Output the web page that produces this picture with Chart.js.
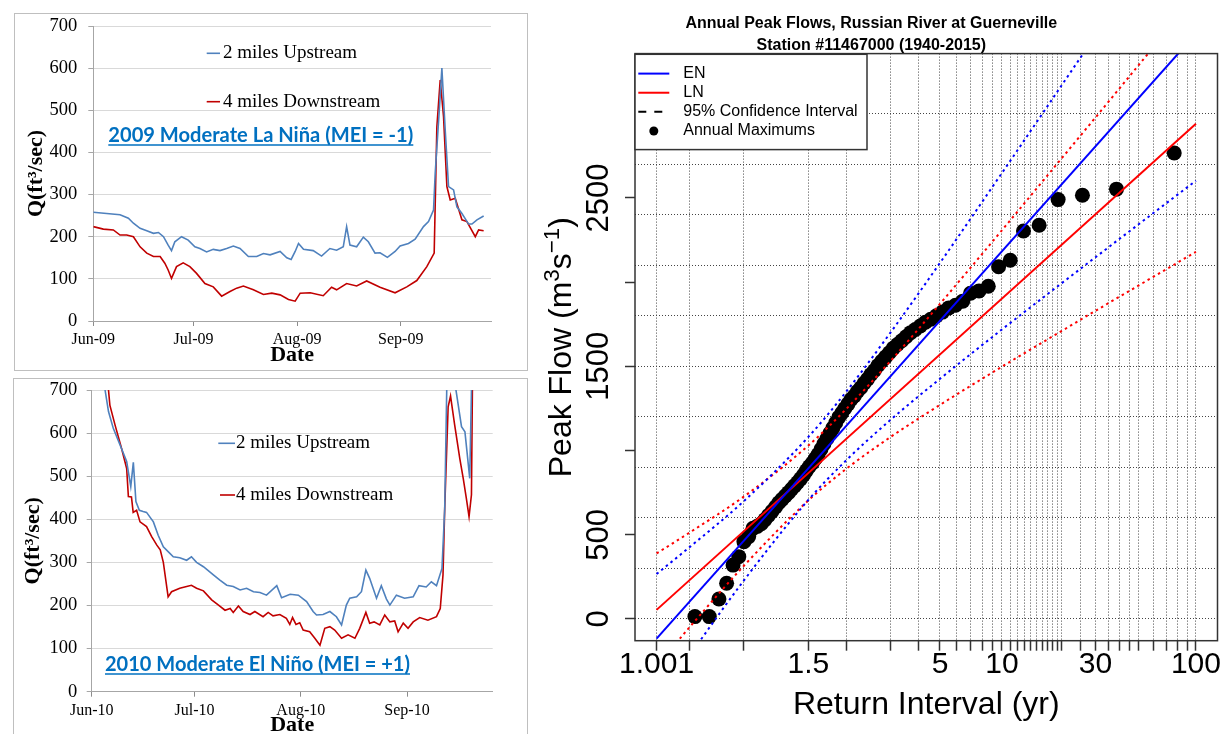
<!DOCTYPE html>
<html>
<head>
<meta charset="utf-8">
<script src="https://cdn.jsdelivr.net/npm/chart.js@4.4.1/dist/chart.umd.min.js"></script>
<style>
  html, body { margin:0; padding:0; background:#fff; }
  body { width:1225px; height:734px; position:relative; overflow:hidden; }
  .frame { position:absolute; border:1px solid #BFBFBF; box-sizing:border-box; overflow:hidden; background:#fff; }
  canvas { display:block; }
  #w3 { position:absolute; left:525px; top:0; }
</style>
</head>
<body>
<div class="frame" style="left:14px;top:13px;width:514px;height:358px;"><canvas id="c2009" width="512" height="356"></canvas></div>
<div class="frame" style="left:13px;top:378px;width:515px;height:362px;"><canvas id="c2010" width="513" height="360"></canvas></div>
<div id="w3"><canvas id="cpeak" width="700" height="734"></canvas></div>
<script>
// ---------------- 2009 panel (day 0 = 1 June) ----------------
const days2009Up = [0,4,8,10.5,12,14,16,18,19.5,21,22.4,23.4,24.4,26.4,28.4,30.4,31.9,33.9,35.9,37.9,39.9,41.9,43.9,46.4,48.9,50.9,52.9,55.9,57.9,59.2,60.4,61.4,62.9,65.8,68.3,70.8,72.8,74.8,75.8,76.8,78.8,80.8,82.3,84.3,85.8,88,90.3,91.8,94.3,96.3,98.8,100.3,101.8,102.3,103.6,104.3,105.3,106.3,107.8,108.8,110.3,112.3,113.3,114.8,116.8];
const flow2009Up = [258,255,252,244,232,220,214,208,210,200,180,167,188,200,192,176,172,164,170,167,172,178,172,153,153,160,157,165,150,146,165,184,170,167,154,172,168,176,224,180,176,199,188,161,162,151,165,178,184,194,224,236,263,350,509,600,453,319,311,271,255,230,230,240,249];
const days2009Down = [0,3,6,8,10,12,14,16,18,20,21.4,22.4,23.4,24.9,26.9,28.9,30.9,33.4,35.9,38.4,40.9,42.9,44.9,47.9,50.9,53.4,55.9,58.4,60.4,61.9,64.9,68.8,71.3,72.8,75.8,78.8,81.8,85.8,90.3,93.8,96.8,99.8,102,102.8,103.8,104.8,105.8,106.8,108.3,110.3,111.8,114.3,115.3,116.8];
const flow2009Down = [224,218,216,204,204,200,176,161,153,153,137,121,101,129,138,129,113,89,81,59,70,78,83,74,63,66,62,51,47,66,67,60,80,74,89,83,95,80,67,81,96,129,161,461,572,485,319,287,291,240,236,200,216,214];

// ---------------- 2010 panel (day 0 = 1 June) ----------------
const days2010Up = [3,3.9,4.9,6.3,8.3,10.2,11.4,12.15,12.9,13.9,15,16,18,19.4,20.9,22.3,23.8,25.7,27.7,29.1,30.6,32.6,35.5,37.4,39.4,41.3,43.3,45.2,47.2,49.1,51,54,55.4,57.9,60.3,62.7,64.6,65.6,67.5,69.5,71.4,72.9,74.3,75.3,77.3,78.7,80,81.1,83.1,84.5,86,87,88.9,91.3,93.8,95.5,97.6,99.1,100.6,102.2,103,103.8,104.8,105.9,107.9,108.9,110.3,111.3];
const flow2010Up = [780,700,650,611,572,534,476,532,441,421,418,416,394,363,336,325,313,311,305,313,300,290,271,259,247,244,236,240,232,230,224,246,218,226,224,209,186,178,179,186,174,155,201,217,220,232,282,263,217,246,215,201,224,217,220,246,243,255,246,286,425,800,850,720,615,603,495,900];
const days2010Down = [4.5,4.9,5.3,6.8,8.7,10.2,10.7,11.6,12.1,13.1,14.1,16,17.5,19,20,20.9,22.3,23.3,25.7,27.7,29.1,30.6,32.6,35,37,38.9,40.4,41.3,42.8,44.2,46.2,47.6,50,51.5,52.9,54.9,56.8,57.8,58.6,59.6,60.7,61.7,63.6,65.1,66.6,68,69.5,70.9,72.9,74.8,76.8,78.2,80,81.1,82.4,84.05,85.5,87,88.4,89.4,90.9,92.3,93.8,95.7,98.1,100.6,101.7,102.5,103,104,104.7,105.9,107.4,108.4,109.3,110.1,110.8,111.3];
const flow2010Down = [760,700,665,619,565,518,453,452,416,421,394,383,360,340,329,300,220,232,240,244,247,240,234,213,201,189,193,184,199,186,179,186,174,184,176,179,170,156,172,156,160,143,139,124,108,147,151,143,124,132,124,147,184,159,162,155,178,162,164,139,159,147,162,172,166,174,193,271,425,661,686,619,541,495,449,406,457,900];

const monthTickDays = [0, 30, 61, 92];
const monthLabels2009 = ['Jun-09', 'Jul-09', 'Aug-09', 'Sep-09'];
const monthLabels2010 = ['Jun-10', 'Jul-10', 'Aug-10', 'Sep-10'];
const seriesNames = ['2 miles Upstream', '4 miles Downstream'];
const note2009 = '2009 Moderate La Niña (MEI = -1)';
const note2010 = '2010 Moderate El Niño (MEI = +1)';

// ---------------- Annual peak flows panel ----------------
const annualMaxT = [77,38.5,25.67,19.25,15.4,12.83,11,9.625,8.556,7.7,7,6.417,5.923,5.5,5.133,4.813,4.529,4.278,4.053,3.85,3.667,3.5,3.348,3.208,3.08,2.962,2.852,2.75,2.655,2.567,2.484,2.406,2.333,2.265,2.2,2.139,2.081,2.026,1.974,1.925,1.878,1.833,1.791,1.75,1.711,1.674,1.638,1.604,1.571,1.54,1.51,1.481,1.453,1.426,1.4,1.375,1.351,1.328,1.305,1.283,1.262,1.242,1.222,1.203,1.185,1.167,1.149,1.132,1.116,1.1,1.0845,1.0694,1.0548,1.0405,1.0267,1.0132];
const annualMaxQ = [2767,2552,2516,2490,2338,2304,2130,2091,1976,1948,1934,1887,1863,1847,1822,1800,1780,1762,1740,1719,1700,1676,1652,1630,1608,1581,1555,1530,1505,1475,1452,1423,1400,1373,1351,1324,1303,1276,1250,1223,1197,1165,1133,1102,1070,1040,1008,977,951,926,905,881,855,832,810,790,770,750,730,710,690,665,640,615,590,565,550,538,489,459,370,320,212,119,14,14];
const fitT = [1.001, 100];
const enFitQ = [-117, 3475];
const lnFitQ = [54, 2941];
const ciT = [1.001,1.01,1.1,1.5,2,3,5,10,20,30,50,100];
const enUpperQ = [267,428,700,1081,1351,1702,2114,2648,3166,3465,3840,4348];
const enLowerQ = [-501,-215,229,707,943,1183,1426,1719,1992,2148,2342,2602];
const lnUpperQ = [389,514,727,1030,1248,1533,1871,2308,2733,2978,3286,3703];
const lnLowerQ = [-281,-47,316,704,892,1081,1271,1498,1709,1830,1979,2180];
const xTickT = [1.001,1.01,1.1,1.5,2,3,4,5,6,7,8,9,10,11,12,13,14,15,16,17,18,19,20,25,30,35,40,45,50,60,70,80,90,100];
const xLabelT = [1.001,1.5,5,10,30,100];
const yTickQ = [0,500,1000,1500,2000,2500];
const yTickLabels = ['0','500','','1500','','2500'];
const yGridQ = [0,300,600,900,1200,1500,1800,2100,2400,2700,3000];
const legendLabels = ['EN','LN','95% Confidence Interval','Annual Maximums'];
const peakTitle = ['Annual Peak Flows, Russian River at Guerneville', 'Station #11467000 (1940-2015)'];
// y-axis title pieces: [text, superscript?]
const peakYTitle = [['Peak Flow (m', false], ['3', true], ['s', false], ['\u22121', true], [')', false]];

const BLUE = '#4F81BD', RED = '#C00000';
const xy = (xs, ys) => xs.map((x, i) => ({x, y: ys[i]}));

function panelDecor(o) {
  return {
    id: 'decor',
    afterDatasetsDraw(chart) {
      const ctx = chart.ctx, ds = chart.data.datasets;
      ctx.save();
      ctx.textAlign = 'left'; ctx.textBaseline = 'middle';
      ctx.font = '19px "Liberation Serif"';
      o.rows.forEach((r, i) => {
        ctx.strokeStyle = ds[i].borderColor; ctx.lineWidth = 1.6;
        ctx.beginPath(); ctx.moveTo(r.x0, r.y); ctx.lineTo(r.x1, r.y); ctx.stroke();
        ctx.fillStyle = '#000';
        ctx.fillText(ds[i].label, r.tx, r.y);
      });
      ctx.font = 'bold 20px Lato';
      const w = ctx.measureText(o.note).width;
      const size = 20 * o.noteW / w;
      ctx.font = 'bold ' + size.toFixed(2) + 'px Lato';
      ctx.fillStyle = '#0070C0';
      ctx.fillText(o.note, o.noteX, o.noteY);
      ctx.strokeStyle = '#0070C0'; ctx.lineWidth = 1.4;
      ctx.beginPath(); ctx.moveTo(o.noteX, o.noteU); ctx.lineTo(o.noteX + o.noteW, o.noteU); ctx.stroke();
      ctx.restore();
    }
  };
}

function flowPanel(id, o) {
  return new Chart(document.getElementById(id), {
    type: 'line',
    data: { datasets: [
      { label: seriesNames[0], data: xy(o.dUp, o.qUp), borderColor: BLUE, borderWidth: 1.6, pointRadius: 0, tension: 0, clip: 0 },
      { label: seriesNames[1], data: xy(o.dDown, o.qDown), borderColor: RED, borderWidth: 1.6, pointRadius: 0, tension: 0, clip: 0 }
    ]},
    options: {
      responsive: false, animation: false, events: [],
      layout: { padding: { left: 0, right: o.padRight, top: o.padTop, bottom: 0 } },
      plugins: { legend: { display: false }, tooltip: { enabled: false } },
      scales: {
        x: {
          type: 'linear', min: 0, max: o.xMax,
          afterBuildTicks: s => { s.ticks = monthTickDays.map(v => ({ value: v })); },
          ticks: { autoSkip: false, maxRotation: 0, minRotation: 0, padding: 4, color: '#000',
                   font: { family: 'Liberation Serif', size: 16 }, callback: (v, i) => o.labels[i] },
          grid: { drawOnChartArea: false, drawTicks: true, tickLength: 5, tickColor: '#8C8C8C', tickWidth: 1 },
          border: { display: true, color: '#A6A6A6', width: 1 },
          title: { display: true, text: 'Date', color: '#000', font: { family: 'Liberation Serif', size: 22, weight: 'bold' },
                   padding: { top: 0, bottom: o.datePad } },
          afterFit: s => { s.height = o.xH; s.paddingLeft = 0; s.paddingRight = 0; }
        },
        y: {
          type: 'linear', min: 0, max: 700,
          ticks: { stepSize: 100, padding: o.yPad, color: '#000', font: { family: 'Liberation Serif', size: 18.5 } },
          grid: { color: '#D9D9D9', lineWidth: 1, tickLength: 5, tickColor: '#A6A6A6' },
          border: { display: true, color: '#A6A6A6', width: 1 },
          title: { display: true, text: 'Q(ft³/sec)', color: '#000', font: { family: 'Liberation Serif', size: 22, weight: 'bold' },
                   padding: { top: o.qPad, bottom: 0 } },
          afterFit: s => { s.width = o.yW; s.paddingTop = 0; s.paddingBottom = 0; }
        }
      }
    },
    plugins: [panelDecor(o.decor)]
  });
}

flowPanel('c2009', {
  dUp: days2009Up, qUp: flow2009Up, dDown: days2009Down, qDown: flow2009Down,
  labels: monthLabels2009, xMax: 119, padRight: 36, padTop: 12, xH: 49, yW: 78.3, yPad: 11, qPad: 7.8, datePad: 1,
  decor: { rows: [{x0: 191.7, x1: 205, y: 39.3, tx: 208}, {x0: 191.7, x1: 205, y: 87.7, tx: 208}],
           note: note2009, noteX: 93.3, noteY: 121.5, noteW: 305, noteU: 131 }
});
flowPanel('c2010', {
  dUp: days2010Up, qUp: flow2010Up, dDown: days2010Down, qDown: flow2010Down,
  labels: monthLabels2010, xMax: 117, padRight: 34.3, padTop: 11, xH: 47.3, yW: 77.7, yPad: 9.4, qPad: 6.1, datePad: 0,
  decor: { rows: [{x0: 204.3, x1: 221, y: 64.3, tx: 222}, {x0: 206, x1: 221, y: 116, tx: 222}],
           note: note2010, noteX: 91, noteY: 285.7, noteW: 305, noteU: 295 }
});

// ---------------- Peak flow frequency plot ----------------
const gumbel = t => -Math.log(-Math.log(1 - 1 / t));
const gpts = (ts, qs) => ts.map((t, i) => ({ x: gumbel(t), y: qs[i] }));

const peakDecor = {
  id: 'peakDecor',
  afterDatasetsDraw(chart) {
    const { ctx, chartArea: a } = chart;
    ctx.save();
    ctx.strokeStyle = '#333'; ctx.lineWidth = 1.5; ctx.setLineDash([]);
    ctx.strokeRect(a.left, a.top, a.right - a.left, a.bottom - a.top);
    const L = a.left, T = a.top + 0.7, W = 232, H = 95.3;
    ctx.fillStyle = '#fff'; ctx.fillRect(L, T, W, H);
    ctx.strokeRect(L, T, W, H);
    const kinds = [['line', '#0000FF'], ['line', '#FF0000'], ['dash', '#000'], ['dot', '#000']];
    ctx.font = '16px "Liberation Sans"'; ctx.textAlign = 'left'; ctx.textBaseline = 'middle';
    legendLabels.forEach((txt, i) => {
      const y = T + 19.3 + i * 19.13;
      const [kind, col] = kinds[i];
      ctx.strokeStyle = col; ctx.fillStyle = col; ctx.lineWidth = 2;
      if (kind === 'line' || kind === 'dash') {
        ctx.setLineDash(kind === 'dash' ? [8, 8] : []);
        ctx.beginPath(); ctx.moveTo(L + 3.3, y); ctx.lineTo(L + 34.3, y); ctx.stroke();
        ctx.setLineDash([]);
      } else {
        ctx.beginPath(); ctx.arc(L + 18.8, y, 4.5, 0, Math.PI * 2); ctx.fill();
      }
      ctx.fillStyle = '#000';
      ctx.fillText(txt, L + 48.3, y);
    });
    ctx.restore();
  },
  afterDraw(chart) {
    // y-axis title with real superscripts, centred on the y scale
    const { ctx } = chart;
    const ys = chart.scales.y;
    const big = 32, small = 22.4, lift = 12;
    ctx.save();
    ctx.fillStyle = '#000'; ctx.textBaseline = 'alphabetic'; ctx.textAlign = 'left';
    const widths = peakYTitle.map(([t, sup]) => {
      ctx.font = (sup ? small : big) + 'px "Liberation Sans"';
      return ctx.measureText(t).width;
    });
    const total = widths.reduce((s, w) => s + w, 0);
    ctx.translate(45.5, (ys.top + ys.bottom) / 2);
    ctx.rotate(-Math.PI / 2);
    let x = -total / 2;
    peakYTitle.forEach(([t, sup], i) => {
      ctx.font = (sup ? small : big) + 'px "Liberation Sans"';
      ctx.fillText(t, x, sup ? -lift : 0);
      x += widths[i];
    });
    ctx.restore();
  }
};

const lineDs = (label, data, color, dashed) => ({
  label, data, borderColor: color, borderWidth: 2, pointRadius: 0, clip: 0, yAxisID: 'y',
  borderDash: dashed ? [2.5, 3.5] : [], cubicInterpolationMode: dashed ? 'monotone' : 'default', order: 1
});

new Chart(document.getElementById('cpeak'), {
  type: 'line',
  data: { datasets: [
    { label: legendLabels[3], data: gpts(annualMaxT, annualMaxQ), showLine: false, pointRadius: 7.5,
      pointBackgroundColor: '#000', pointBorderWidth: 0, yAxisID: 'y', order: 10 },
    lineDs('EN upper', gpts(ciT, enUpperQ), '#0000FF', true),
    lineDs('EN lower', gpts(ciT, enLowerQ), '#0000FF', true),
    lineDs('LN upper', gpts(ciT, lnUpperQ), '#FF0000', true),
    lineDs('LN lower', gpts(ciT, lnLowerQ), '#FF0000', true),
    lineDs(legendLabels[0], gpts(fitT, enFitQ), '#0000FF', false),
    lineDs(legendLabels[1], gpts(fitT, lnFitQ), '#FF0000', false)
  ]},
  options: {
    responsive: false, animation: false, events: [],
    layout: { padding: { left: 0, right: 7.3, top: 0, bottom: 0 } },
    plugins: {
      legend: { display: false }, tooltip: { enabled: false },
      title: { display: true, text: peakTitle, color: '#000', fullSize: true,
               font: { family: 'Liberation Sans', size: 16, weight: 'bold', lineHeight: '22.3px' },
               padding: { top: 12, bottom: -3 } }
    },
    scales: {
      x: {
        type: 'linear', min: -2.1939, max: 4.8614,
        afterBuildTicks: s => { s.ticks = xTickT.map(t => ({ value: gumbel(t) })); },
        ticks: { autoSkip: false, maxRotation: 0, minRotation: 0, padding: -4, color: '#000',
                 font: { family: 'Liberation Sans', size: 30 },
                 callback: (v, i) => xLabelT.includes(xTickT[i]) ? String(xTickT[i]) : '' },
        grid: { color: '#444', lineWidth: 1, drawOnChartArea: true, drawTicks: true, tickLength: 10, tickColor: '#333', tickWidth: 1.5 },
        border: { display: false, dash: [1, 2] },
        title: { display: true, text: 'Return Interval (yr)', color: '#000',
                 font: { family: 'Liberation Sans', size: 32 }, padding: { top: 0, bottom: 10 } },
        afterFit: s => { s.height = 93.3; s.paddingLeft = 0; s.paddingRight = 0; }
      },
      y: {
        type: 'linear', position: 'left', min: -129, max: 3357,
        afterBuildTicks: s => { s.ticks = yTickQ.map(v => ({ value: v })); },
        ticks: { autoSkip: false, minRotation: 90, maxRotation: 90, crossAlign: 'center', padding: -9, color: '#000',
                 font: { family: 'Liberation Sans', size: 31 }, callback: (v, i) => yTickLabels[i] },
        grid: { drawOnChartArea: false, drawTicks: true, tickLength: 10, tickColor: '#333', tickWidth: 1.5 },
        border: { display: false },
        title: { display: false },
        afterFit: s => { s.width = 110; s.paddingTop = 0; s.paddingBottom = 0; }
      },
      yGrid: {
        type: 'linear', position: 'left', min: -129, max: 3357,
        afterBuildTicks: s => { s.ticks = yGridQ.map(v => ({ value: v })); },
        ticks: { display: false },
        grid: { color: '#444', lineWidth: 1, drawTicks: false, drawOnChartArea: true },
        border: { display: false, dash: [1, 2] },
        afterFit: s => { s.width = 0; s.paddingTop = 0; s.paddingBottom = 0; }
      }
    }
  },
  plugins: [peakDecor]
});
</script>
</body>
</html>
